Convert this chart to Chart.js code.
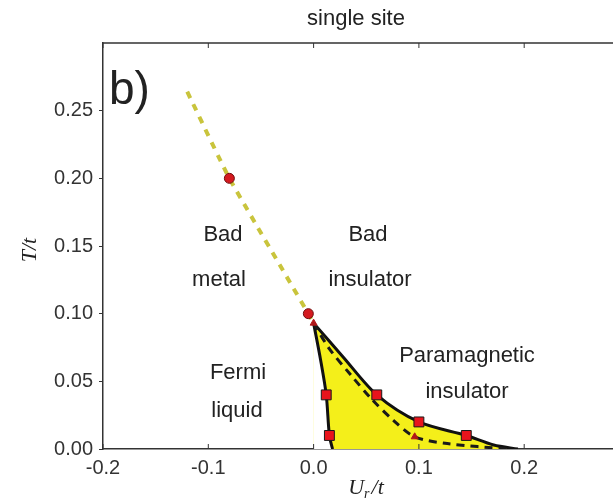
<!DOCTYPE html>
<html>
<head>
<meta charset="utf-8">
<title>single site</title>
<script src="https://cdn.jsdelivr.net/npm/chart.js@4.4.1/dist/chart.umd.min.js"></script>
<style>
    html, body { margin: 0; padding: 0; background: #fff; overflow: hidden; }
    #wrap { width: 640px; height: 499px; }
</style>
</head>
<body>
<div id="wrap"><canvas id="phaseChart" width="640" height="499"></canvas></div>
<script>
// crossover line (bad metal / bad insulator), yellow dashed
const crossU = [-0.12, -0.08, -0.005, 0.0];
const crossT = [0.264, 0.20, 0.10, 0.093];
// red circles on the crossover
const circleU = [-0.08, -0.005];
const circleT = [0.20, 0.10];
// left boundary of coexistence region (solid black)
const leftU = [0.0, 0.0066, 0.012, 0.015, 0.018];
const leftT = [0.093, 0.066, 0.04, 0.01, 0.0];
// right boundary of coexistence region (solid black)
const rightU = [0.0, 0.028, 0.06, 0.10, 0.145, 0.171, 0.194];
const rightT = [0.093, 0.068, 0.04, 0.02, 0.01, 0.003, 0.0];
// first order transition (black dashed)
const dashU = [0.0, 0.015, 0.035, 0.055, 0.076, 0.096, 0.127, 0.184];
const dashT = [0.093, 0.074, 0.055, 0.037, 0.021, 0.009, 0.004, 0.0];
// red squares
const squareU = [0.012, 0.015, 0.06, 0.10, 0.145];
const squareT = [0.04, 0.01, 0.04, 0.02, 0.01];
// small red triangles
const triU = [0.0, 0.096];
const triT = [0.093, 0.009];

// labelled ticks; the axis runs on to 0.3, just past the right edge
const xTicks = [-0.2, -0.1, 0.0, 0.1, 0.2];
const yTicks = [0.0, 0.05, 0.10, 0.15, 0.20, 0.25];

const regionLabels = [
    { text: 'Bad', x: 223, y: 235 },
    { text: 'metal', x: 219, y: 280 },
    { text: 'Bad', x: 368, y: 235 },
    { text: 'insulator', x: 370, y: 280 },
    { text: 'Fermi', x: 238, y: 373 },
    { text: 'liquid', x: 237, y: 411 },
    { text: 'Paramagnetic', x: 467, y: 356 },
    { text: 'insulator', x: 467, y: 392 }
];

const pts = (xs, ys) => xs.map((x, i) => ({ x: x, y: ys[i] }));

const FRAME = '#333333';

const decorPlugin = {
    id: 'decor',
    afterDraw(chart) {
        const ctx = chart.ctx;
        const area = chart.chartArea;
        const xs = chart.scales.x;
        ctx.save();
        // top and right frame lines
        ctx.strokeStyle = FRAME;
        ctx.lineWidth = 1.5;
        ctx.beginPath();
        ctx.moveTo(area.left, area.top);
        ctx.lineTo(area.right, area.top);
        ctx.lineTo(area.right, area.bottom);
        ctx.stroke();
        // inward x ticks, bottom and top
        ctx.lineWidth = 1;
        xTicks.forEach(v => {
            const px = xs.getPixelForValue(v);
            ctx.beginPath();
            ctx.moveTo(px, area.bottom);
            ctx.lineTo(px, area.bottom - 5);
            ctx.moveTo(px, area.top);
            ctx.lineTo(px, area.top + 5);
            ctx.stroke();
        });

        // title
        ctx.fillStyle = '#222';
        ctx.textAlign = 'center';
        ctx.textBaseline = 'middle';
        ctx.font = '22px "Liberation Sans", Arial, sans-serif';
        ctx.fillText('single site', 356, 19);

        // panel tag
        ctx.textAlign = 'left';
        ctx.textBaseline = 'alphabetic';
        ctx.font = '46px "Liberation Sans", Arial, sans-serif';
        ctx.fillText('b)', 109, 104);

        // region names
        ctx.textAlign = 'center';
        ctx.textBaseline = 'middle';
        ctx.font = '22px "Liberation Sans", Arial, sans-serif';
        regionLabels.forEach(l => ctx.fillText(l.text, l.x, l.y));

        // y axis title T/t
        ctx.save();
        ctx.translate(30, 250);
        ctx.rotate(-Math.PI / 2);
        ctx.font = 'italic 22px "Liberation Serif", "Times New Roman", serif';
        ctx.fillText('T/t', 0, 0);
        ctx.restore();

        // x axis title U_r/t
        ctx.textAlign = 'left';
        ctx.textBaseline = 'alphabetic';
        const big = 'italic 22px "Liberation Serif", "Times New Roman", serif';
        const small = 'italic 14px "Liberation Serif", "Times New Roman", serif';
        ctx.font = big;
        const wU = ctx.measureText('U').width;
        const wT = ctx.measureText('/t').width;
        ctx.font = small;
        const wR = ctx.measureText('r').width;
        const x0 = 366 - (wU + wR + 2 + wT) / 2;
        const base = 494;
        ctx.font = big;
        ctx.fillText('U', x0, base);
        ctx.font = small;
        ctx.fillText('r', x0 + wU, base + 4);
        ctx.font = big;
        ctx.fillText('/t', x0 + wU + wR + 2, base);
        ctx.restore();
    }
};

const chart = new Chart(document.getElementById('phaseChart'), {
    type: 'scatter',
    data: {
        datasets: [
            {
                label: 'squares',
                data: pts(squareU, squareT),
                pointStyle: 'rect',
                pointRadius: 7,
                backgroundColor: '#e8141c',
                borderColor: '#1a1a1a',
                borderWidth: 1
            },
            {
                label: 'circles',
                data: pts(circleU, circleT),
                pointStyle: 'circle',
                pointRadius: 5,
                backgroundColor: '#d41a1f',
                borderColor: '#6e1010',
                borderWidth: 1
            },
            {
                label: 'triangles',
                data: pts(triU, triT),
                pointStyle: 'triangle',
                pointRadius: 4,
                backgroundColor: '#b0161a',
                borderColor: '#b0161a',
                borderWidth: 1
            },
            {
                label: 'first order',
                data: pts(dashU, dashT),
                showLine: true,
                tension: 0.3,
                borderColor: '#1a1a1a',
                borderWidth: 3,
                borderDash: [8, 6],
                pointRadius: 0,
                fill: false
            },
            {
                label: 'left boundary',
                data: pts(leftU, leftT),
                showLine: true,
                tension: 0.3,
                borderColor: '#111',
                borderWidth: 3,
                pointRadius: 0,
                fill: 'origin',
                backgroundColor: '#ffffff'
            },
            {
                label: 'right boundary',
                data: pts(rightU, rightT),
                showLine: true,
                tension: 0.3,
                borderColor: '#111',
                borderWidth: 3,
                pointRadius: 0,
                fill: 'origin',
                backgroundColor: '#f4ef1a'
            },
            {
                label: 'crossover',
                data: pts(crossU, crossT),
                showLine: true,
                tension: 0.12,
                borderColor: '#c9c43c',
                borderWidth: 4,
                borderDash: [7, 7],
                pointRadius: 0,
                fill: false
            }
        ]
    },
    options: {
        responsive: false,
        animation: false,
        layout: { padding: { top: 43, right: 10.5, left: 0, bottom: 0 } },
        plugins: {
            legend: { display: false },
            tooltip: { enabled: false },
            title: { display: false }
        },
        scales: {
            x: {
                type: 'linear',
                min: -0.2,
                max: 0.3,
                afterFit: s => { s.height = 50; s.paddingRight = 0; s.paddingLeft = 0; },
                afterBuildTicks: s => { s.ticks = xTicks.map(v => ({ value: v })); },
                border: { display: true, color: FRAME, width: 1.5 },
                grid: { drawOnChartArea: false, drawTicks: false },
                ticks: {
                    padding: 7,
                    color: '#333',
                    font: { family: '"Liberation Sans", Arial, sans-serif', size: 20 },
                    callback: v => v.toFixed(1)
                }
            },
            y: {
                type: 'linear',
                min: 0,
                max: 0.3,
                afterFit: s => { s.width = 103; },
                afterBuildTicks: s => { s.ticks = yTicks.map(v => ({ value: v })); },
                border: { display: true, color: FRAME, width: 1.5 },
                grid: { drawOnChartArea: false, drawTicks: true, tickLength: 4, color: FRAME },
                ticks: {
                    padding: 6,
                    color: '#333',
                    font: { family: '"Liberation Sans", Arial, sans-serif', size: 20 },
                    callback: v => v.toFixed(2)
                }
            }
        }
    },
    plugins: [decorPlugin]
});
</script>
</body>
</html>
